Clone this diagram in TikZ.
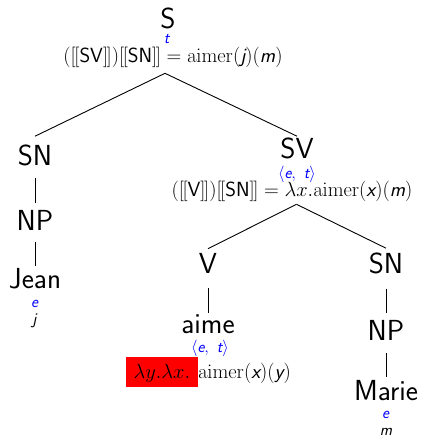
\RequirePackage{fix-cm}
\documentclass[tikz,border=0pt]{standalone}
\newcommand\semb[1]{[\kern-0.07em[\textsf{#1}]\kern-0.07em]}
\newcommand\sfit[1]{\textsf{\itshape #1}}
\newcommand\typet{\langle\sfit{e},\ \sfit{t}\rangle}
\begin{document}
\begin{tikzpicture}[x=1pt,y=-1pt,
  cat/.style={inner sep=0pt, anchor=base, font=\fontsize{29}{32}\selectfont\sffamily},
  typ/.style={inner sep=0pt, anchor=base, font=\fontsize{16.5}{18}\selectfont\sffamily, text=blue},
  den/.style={inner sep=0pt, anchor=base, font=\fontsize{16.5}{18}\selectfont\sffamily},
  sem/.style={inner sep=0pt, anchor=base, font=\fontsize{20.5}{23}\selectfont},
  edge/.style={line width=0.9pt}]
\useasboundingbox (0,0) rectangle (423,436);

% root
\node[cat] (S) at (168,29) {S};
\node[typ] (tS) at (167,44) {\sfit{t}};
\node[sem] (fS) at (173,63) {$(\semb{SV})\semb{SN} = \mathrm{aimer}(\sfit{j})(\sfit{m})$};

% subject
\node[cat] (SN1) at (35,165) {SN};
\node[cat] (NP1) at (35,230) {NP};
\node[cat] (Jean) at (35,288) {Jean};
\node[typ] (eJ) at (35,307) {\sfit{e}};
\node[den] (dJ) at (35,324) {\sfit{j}};

% verb phrase
\node[cat] (SV) at (297,158) {SV};
\node[typ] (tSV) at (297,178) {$\typet$};
\node[sem] (fSV) at (292,196) {$(\semb{V})\semb{SN} = \lambda x.\mathrm{aimer}(\sfit{x})(\sfit{m})$};

% verb
\node[cat] (V) at (208,273) {V};
\node[cat] (aime) at (208,333) {aime};
\node[typ] (tV) at (210,352) {$\typet$};
\node[sem, anchor=base west, fill=red, inner xsep=7.5pt, inner ysep=0pt,
      text height=21pt, text depth=9pt] (lam) at (126,378) {$\lambda y.\lambda x.$};
\node[sem, anchor=base west] (body) at (lam.base east) {$\mathrm{aimer}(\sfit{x})(\sfit{y})$};

% object
\node[cat] (SN2) at (386,273) {SN};
\node[cat] (NP2) at (386,340) {NP};
\node[cat] (Marie) at (386,400) {Marie};
\node[typ] (eM) at (386,418) {\sfit{e}};
\node[den] (dM) at (386,435) {\sfit{m}};

% branches
\draw[edge] ([xshift=-8pt,yshift=-5pt]fS.south) -- ([yshift=8pt]SN1.north);
\draw[edge] ([xshift=-8pt,yshift=-5pt]fS.south) -- ([yshift=1pt]SV.north);
\draw[edge] ([xshift=4.5pt,yshift=-3pt]fSV.south) -- ([yshift=4pt]V.north);
\draw[edge] ([xshift=4.5pt,yshift=-3pt]fSV.south) -- ([yshift=4pt]SN2.north);

\draw[edge] ([yshift=-12pt]SN1.south) -- ([yshift=7pt]NP1.north);
\draw[edge] ([yshift=-12pt]NP1.south) -- ([yshift=2pt]Jean.north);
\draw[edge] ([yshift=-15pt]V.south) -- ([yshift=1pt]aime.north);
\draw[edge] ([yshift=-15pt]SN2.south) -- ([yshift=7pt]NP2.north);
\draw[edge] ([yshift=-13pt]NP2.south) -- ([yshift=3pt]Marie.north);
\end{tikzpicture}
\end{document}
